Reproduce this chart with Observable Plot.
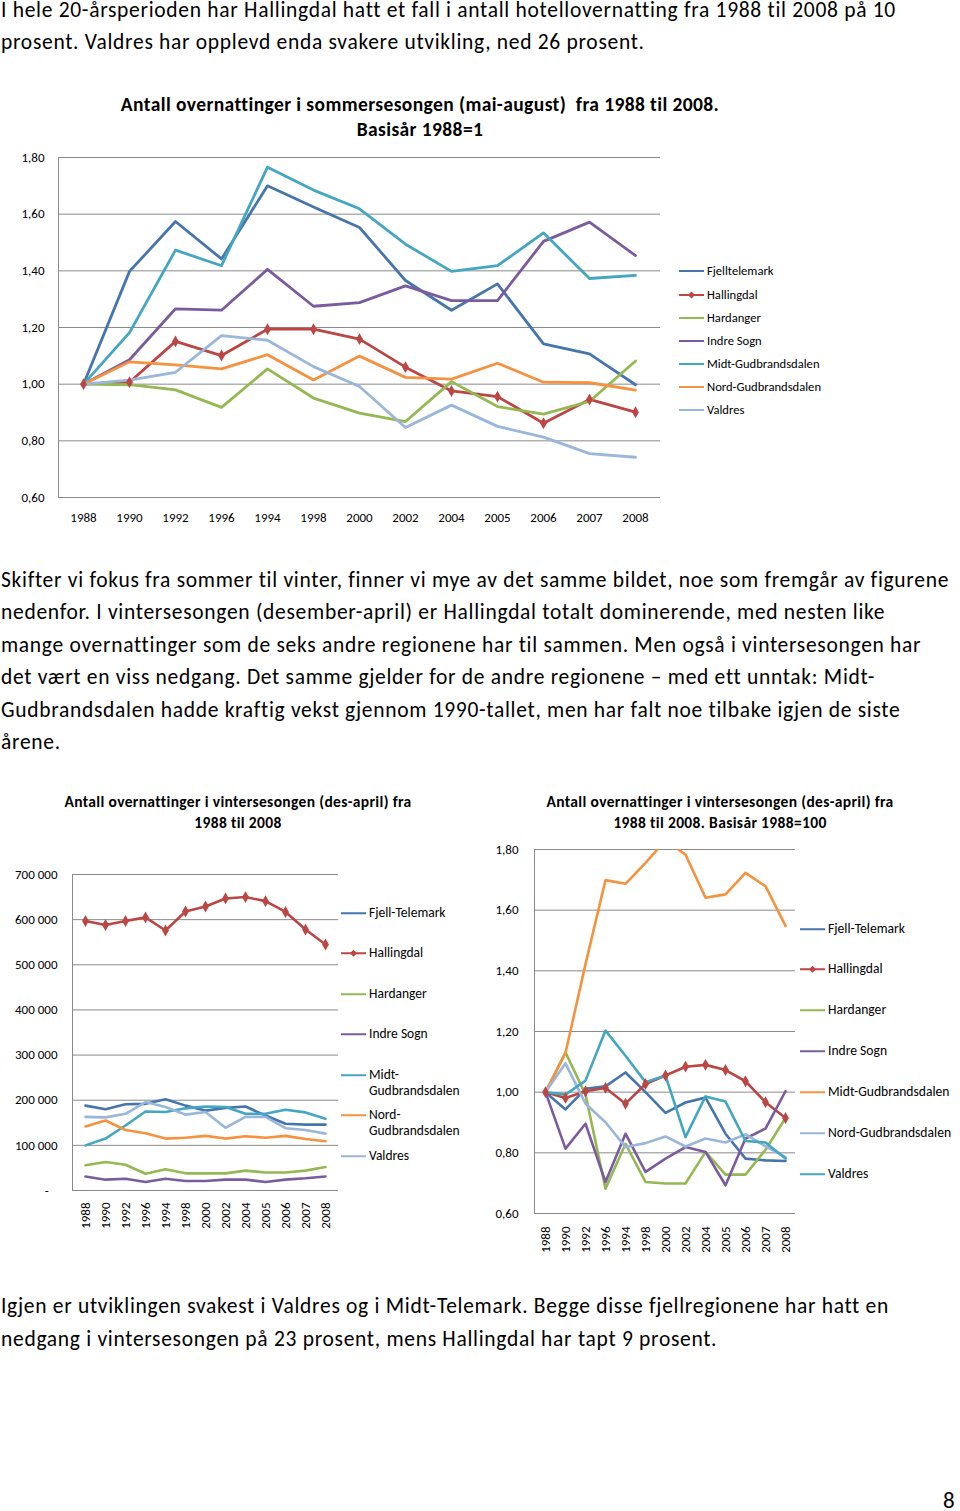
<!DOCTYPE html>
<html><head><meta charset="utf-8">
<script src="https://cdn.jsdelivr.net/npm/d3@7"></script>
<script src="https://cdn.jsdelivr.net/npm/@observablehq/plot@0.6"></script>
<style>
body{margin:0;background:#fff;width:960px;height:1511px;position:relative;overflow:hidden;font-family:Carlito,Lato,sans-serif;color:#000}
.para{position:absolute;left:1px;font-size:21.5px;letter-spacing:0.7px;line-height:32.4px;white-space:nowrap}
.title{position:absolute;font-weight:bold;text-align:center;white-space:nowrap}
.chart{position:absolute}
.leg{position:absolute;white-space:nowrap;display:flex;align-items:flex-start}
.leg svg{flex:none}
</style></head><body>

<div class="para" style="top:-6px">I hele 20-årsperioden har Hallingdal hatt et fall i antall hotellovernatting fra 1988 til 2008 på 10<br>prosent. Valdres har opplevd enda svakere utvikling, ned 26 prosent.</div>

<div class="title" style="left:120px;width:600px;top:92px;font-size:19.5px;letter-spacing:0.4px;line-height:25px">Antall overnattinger i sommersesongen (mai-august)&nbsp; fra 1988 til 2008.<br>Basisår 1988=1</div>

<div class="chart" id="c1" style="left:0;top:140px"></div>
<div id="l1"></div>

<div class="para" style="top:564px">Skifter vi fokus fra sommer til vinter, finner vi mye av det samme bildet, noe som fremgår av figurene<br>nedenfor. I vintersesongen (desember-april) er Hallingdal totalt dominerende, med nesten like<br>mange overnattinger som de seks andre regionene har til sammen. Men også i vintersesongen har<br>det vært en viss nedgang. Det samme gjelder for de andre regionene – med ett unntak: Midt-<br>Gudbrandsdalen hadde kraftig vekst gjennom 1990-tallet, men har falt noe tilbake igjen de siste<br>årene.</div>

<div class="title" style="left:38px;width:400px;top:791px;font-size:15.5px;letter-spacing:0.35px;line-height:21px">Antall overnattinger i vintersesongen (des-april) fra<br>1988 til 2008</div>
<div class="title" style="left:520px;width:400px;top:791px;font-size:15.5px;letter-spacing:0.35px;line-height:21px">Antall overnattinger i vintersesongen (des-april) fra<br>1988 til 2008. Basisår 1988=100</div>

<div class="chart" id="c2" style="left:0;top:860px"></div>
<div id="l2"></div>
<div class="chart" id="c3" style="left:470px;top:835px"></div>
<div id="l3"></div>

<div class="para" style="top:1290px;line-height:33px">Igjen er utviklingen svakest i Valdres og i Midt-Telemark. Begge disse fjellregionene har hatt en<br>nedgang i vintersesongen på 23 prosent, mens Hallingdal har tapt 9 prosent.</div>

<div style="position:absolute;left:943px;top:1486px;font-size:23px">8</div>

<script>
// ---------- DATA ----------
const years = ["1988","1990","1992","1996","1994","1998","2000","2002","2004","2005","2006","2007","2008"];

// Summer, index 1988=1
const summerNames = ["Fjelltelemark","Hallingdal","Hardanger","Indre Sogn","Midt-Gudbrandsdalen","Nord-Gudbrandsdalen","Valdres"];
const sFjelltelemark       = [1.00,1.398,1.574,1.442,1.700,1.625,1.553,1.366,1.261,1.354,1.142,1.107,0.998];
const sHallingdal          = [1.00,1.007,1.151,1.101,1.194,1.194,1.159,1.060,0.976,0.956,0.862,0.946,0.901];
const sHardanger           = [1.00,0.998,0.980,0.918,1.054,0.951,0.898,0.868,1.009,0.921,0.894,0.939,1.082];
const sIndreSogn           = [1.00,1.086,1.266,1.261,1.405,1.275,1.288,1.347,1.295,1.295,1.504,1.572,1.454];
const sMidtGudbrandsdalen  = [1.00,1.182,1.473,1.418,1.766,1.685,1.619,1.494,1.398,1.418,1.534,1.373,1.384];
const sNordGudbrandsdalen  = [1.00,1.079,1.068,1.054,1.104,1.015,1.099,1.024,1.018,1.074,1.007,1.005,0.979];
const sValdres             = [1.00,1.014,1.042,1.171,1.155,1.062,0.992,0.847,0.926,0.851,0.813,0.755,0.742];
const summerYTicks = [0.6,0.8,1.0,1.2,1.4,1.6,1.8];

// Winter, absolute numbers
const winterNames = ["Fjell-Telemark","Hallingdal","Hardanger","Indre Sogn","Midt-\nGudbrandsdalen","Nord-\nGudbrandsdalen","Valdres"];
const wFjellTelemark       = [188000,180000,191000,192000,202000,188000,177000,183000,186000,166000,148000,146000,146000];
const wHallingdal          = [597000,588000,597000,605000,576000,618000,629000,647000,650000,641000,617000,578000,545000];
const wHardanger           = [56000,63000,57000,37000,47000,38000,38000,38000,44000,40000,40000,44000,52000];
const wIndreSogn           = [31000,24000,26000,19000,26000,21000,21000,24000,24000,19000,24000,27000,31000];
const wMidtGudbrandsdalen  = [100000,115000,144000,175000,174000,182000,186000,185000,170000,170000,179000,173000,159000];
const wNordGudbrandsdalen  = [142000,155000,134000,127000,115000,117000,121000,115000,120000,117000,121000,114000,109000];
const wValdres             = [163000,162000,170000,196000,185000,168000,174000,139000,163000,163000,138000,134000,126000];
const winterYTicks = [0,100000,200000,300000,400000,500000,600000,700000];

// Winter, index 1988=1
const indexNames = ["Fjell-Telemark","Hallingdal","Hardanger","Indre Sogn","Midt-Gudbrandsdalen","Nord-Gudbrandsdalen","Valdres"];
const iFjellTelemark       = [1.0,0.943,1.011,1.019,1.065,1.000,0.932,0.966,0.982,0.863,0.781,0.775,0.773];
const iHallingdal          = [1.0,0.981,1.003,1.014,0.962,1.027,1.055,1.084,1.090,1.073,1.036,0.967,0.915];
const iHardanger           = [1.0,1.131,0.992,0.682,0.830,0.704,0.699,0.699,0.803,0.728,0.728,0.810,0.915];
const iIndreSogn           = [1.0,0.814,0.896,0.704,0.863,0.737,0.781,0.819,0.803,0.693,0.847,0.880,1.003];
const iMidtGudbrandsdalen  = [1.0,1.129,1.422,1.699,1.687,1.756,1.830,1.783,1.641,1.652,1.723,1.679,1.548];
const iNordGudbrandsdalen  = [1.0,1.095,0.962,0.901,0.819,0.832,0.854,0.821,0.847,0.834,0.861,0.821,0.786];
const iValdres             = [1.0,0.992,1.038,1.203,1.120,1.033,1.055,0.852,0.986,0.969,0.839,0.834,0.781];

// colours
const cBlue="#4675AE", cRed="#BB4643", cGreen="#95B852", cPurple="#7A5C9E", cAqua="#43A6C2", cOrange="#F5923F", cLight="#9AB6DA";
const summerColors = [cBlue,cRed,cGreen,cPurple,cAqua,cOrange,cLight];
const winterColors = [cBlue,cRed,cGreen,cPurple,cAqua,cOrange,cLight];
const indexColors  = [cBlue,cRed,cGreen,cPurple,cOrange,cLight,cAqua];

// ---------- HELPERS ----------
const FONT = 'Carlito,Lato,sans-serif';
const GRID = "#8a8a8a";
function rows(names, arrays){
  return names.flatMap((n,i)=>arrays[i].map((v,j)=>({series:n, year:years[j], value:v})));
}
const comma2 = d => d.toFixed(2).replace(".", ",");
const thousands = d => d===0 ? "-\u00A0\u00A0\u00A0" : d3.format(",")(d).replace(/,/g, " ");

function chart({data, names, colors, width, height, ml, mr, mt, mb, domain, ticks, fmt, rotate, pad, lw, clip}){
  const hall = data.filter(d=>d.series==="Hallingdal");
  return Plot.plot({
    width, height, marginLeft:ml, marginRight:mr, marginTop:mt, marginBottom:mb,
    style:{fontFamily:FONT, fontSize:"13px", color:"#000", background:"transparent", overflow:"visible"},
    x:{type:"point", domain:years, padding:0.5, label:null},
    y:{domain, label:null},
    color:{domain:names, range:colors},
    marks:[
      Plot.gridY(ticks, {stroke:GRID, strokeOpacity:1, strokeWidth:1}),
      Plot.frame({anchor:"left", stroke:GRID, strokeOpacity:1}),
      Plot.axisY(ticks, {tickSize:0, tickPadding:pad[1], tickFormat:fmt, fontSize:13}),
      rotate ? Plot.axisX({tickSize:0, tickPadding:pad[0], tickRotate:-90, fontSize:13})
             : Plot.axisX({tickSize:0, tickPadding:pad[0], fontSize:13}),
      Plot.line(data, {x:"year", y:"value", z:"series", stroke:"series", strokeWidth:lw, strokeLinejoin:"round", clip}),
      Plot.dot(hall, {x:"year", y:"value", symbol:"diamond", r:3.6, fill:cRed, stroke:null})
    ]
  });
}

function legend(id, names, colors, left, tops, fs, lh){
  const host = document.getElementById(id);
  names.forEach((n,i)=>{
    const el = document.createElement("div");
    el.className="leg";
    el.style.left=left+"px"; el.style.top=(tops[i]-lh/2)+"px";
    el.style.fontSize=fs+"px"; el.style.lineHeight=lh+"px";
    const isH = n==="Hallingdal";
    el.innerHTML = `<svg width="28" height="${lh}"><line x1="1" x2="26" y1="${lh/2}" y2="${lh/2}" stroke="${colors[i]}" stroke-width="2"/>${isH?`<path d="M13.5 ${lh/2-3.5} L17 ${lh/2} L13.5 ${lh/2+3.5} L10 ${lh/2} Z" fill="${colors[i]}"/>`:""}</svg><span style="margin-left:1px">${n.replace("\n","<br>")}</span>`;
    host.appendChild(el);
  });
}

// ---------- CHARTS ----------
document.getElementById("c1").append(chart({
  data: rows(summerNames,[sFjelltelemark,sHallingdal,sHardanger,sIndreSogn,sMidtGudbrandsdalen,sNordGudbrandsdalen,sValdres]),
  names:summerNames, colors:summerColors, width:670, height:400, ml:58, mr:10, mt:17, mb:43,
  domain:[0.6,1.8], ticks:summerYTicks, fmt:comma2, rotate:false, pad:[15,14], lw:2.8, clip:false
}));
legend("l1", summerNames, summerColors, 678, [271,295,318,341,364,387,410], 12.6, 16);

document.getElementById("c2").append(chart({
  data: rows(winterNames,[wFjellTelemark,wHallingdal,wHardanger,wIndreSogn,wMidtGudbrandsdalen,wNordGudbrandsdalen,wValdres]),
  names:winterNames, colors:winterColors, width:345, height:380, ml:72, mr:7, mt:14, mb:50,
  domain:[0,700000], ticks:winterYTicks, fmt:thousands, rotate:true, pad:[12,15], lw:2.6, clip:false
}));
legend("l2", winterNames, winterColors, 340, [913,953,994,1034,1075,1115,1156], 13.5, 16.5);

document.getElementById("c3").append(chart({
  data: rows(indexNames,[iFjellTelemark,iHallingdal,iHardanger,iIndreSogn,iMidtGudbrandsdalen,iNordGudbrandsdalen,iValdres]),
  names:indexNames, colors:indexColors, width:330, height:425, ml:64, mr:5, mt:14, mb:47,
  domain:[0.6,1.8], ticks:summerYTicks, fmt:comma2, rotate:true, pad:[13,16], lw:2.6, clip:true
}));
legend("l3", indexNames, indexColors, 799, [929,969,1010,1051,1092,1133,1174], 13.6, 16.5);
</script>
</body></html>
